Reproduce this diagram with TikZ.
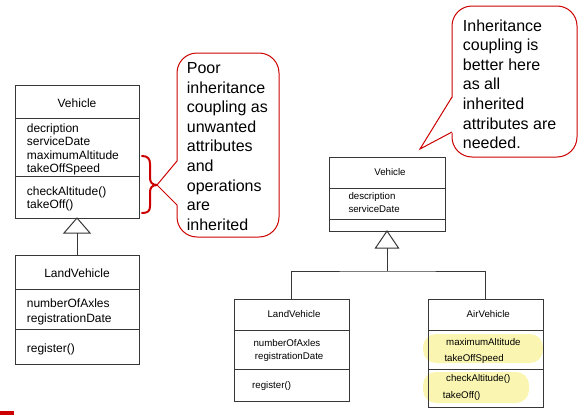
\documentclass[tikz,border=0pt]{standalone}
\usepackage{fontspec}
\setmainfont{Liberation Sans}
\usetikzlibrary{calc}
\definecolor{calred}{RGB}{204,0,0}
\definecolor{hl}{RGB}{250,246,178}
\definecolor{boxline}{RGB}{55,55,55}
\begin{document}
\begin{tikzpicture}[x=1pt,y=-1pt,
 classbox/.style={draw=boxline,line width=1pt,inner sep=0pt,outer sep=0pt,anchor=north west},
 divider/.style={draw=boxline,line width=1pt},
 bigtxt/.style={font=\fontsize{12}{13.5}\selectfont,inner sep=0pt,anchor=base west},
 bigtitle/.style={font=\fontsize{12}{13.5}\selectfont,inner sep=0pt,anchor=base},
 smalltxt/.style={font=\fontsize{9.7}{12}\selectfont,inner sep=0pt,anchor=base west},
 smalltitle/.style={font=\fontsize{9.7}{12}\selectfont,inner sep=0pt,anchor=base},
 callout/.style={draw=calred,line width=1pt,rounded corners=20pt,inner sep=0pt,outer sep=0pt,anchor=north west},
 callouttxt/.style={font=\fontsize{16}{19.6}\selectfont,align=left,inner sep=0pt,anchor=north west},
 redline/.style={draw=calred,line width=1pt},
 inherit/.style={draw=boxline,line width=1pt}
 ]
\useasboundingbox (0,0) rectangle (586,415);

% ---------- left diagram ----------
\node[classbox,minimum width=124pt,minimum height=133pt] (vehL) at (15,85) {};
\draw[divider] (15,118) -- (139,118);
\draw[divider] (15,176) -- (139,176);
\node[bigtitle] (vehLt) at (77,107) {Vehicle};
\node[bigtxt] (vehLa1) at (26.7,132) {decription};
\node[bigtxt] (vehLa2) at (26.7,145.5) {serviceDate};
\node[bigtxt] (vehLa3) at (26.7,159) {maximumAltitude};
\node[bigtxt] (vehLa4) at (26.7,172.5) {takeOffSpeed};
\node[bigtxt] (vehLo1) at (26.7,195.5) {checkAltitude()};
\node[bigtxt] (vehLo2) at (26.7,208) {takeOff()};

\node[classbox,minimum width=124pt,minimum height=109pt] (landL) at (15,255) {};
\draw[divider] (15,289) -- (139,289);
\draw[divider] (15,329) -- (139,329);
\node[bigtitle] (landLt) at (77,277) {LandVehicle};
\node[bigtxt] (landLa1) at (26.7,307.5) {numberOfAxles};
\node[bigtxt] (landLa2) at (26.7,322.5) {registrationDate};
\node[bigtxt] (landLo1) at (26.7,352.7) {register()};

\draw[inherit,fill=white] (vehL.south) -- ++(-13,15) -- ++(26,0) -- cycle;
\coordinate (triL) at ($(vehL.south)+(0,15)$);
\draw[inherit] (triL) -- (landL.north);

% brace
\coordinate (braceTip) at (157,185);
\draw[calred,line width=2pt,line cap=round]
  (142,156) .. controls (148,156) and (150,159) .. (150,164) -- (150,178)
  .. controls (150,182) and (152,185) .. (braceTip)
  .. controls (152,185) and (150,188) .. (150,192) -- (150,206)
  .. controls (150,211) and (148,213) .. (142,213);

% left callout
\node[callout,minimum width=102pt,minimum height=184pt] (poor) at (177,53) {};
\fill[white] (braceTip) -- (178.2,160.5) -- (178.2,205.5) -- cycle;
\draw[redline] (poor.west |- 0,161) -- (braceTip) -- (poor.west |- 0,205);
\node[callouttxt] (poortxt) at (186.7,62.3) {Poor\\inheritance\\coupling as\\unwanted\\attributes\\and\\operations\\are\\inherited};

% ---------- right diagram ----------
\fill[hl,rounded corners=13pt] (423,334) rectangle (543,363);
\fill[hl,rounded corners=13pt] (423,372) rectangle (529,403);

\node[classbox,minimum width=116pt,minimum height=74pt] (vehR) at (329,157) {};
\draw[divider] (329,188.3) -- (445,188.3);
\draw[divider] (329,219.3) -- (445,219.3);
\node[smalltitle] (vehRt) at (390,175.2) {Vehicle};
\node[smalltxt] (vehRa1) at (348.3,199.2) {description};
\node[smalltxt] (vehRa2) at (348.3,212.5) {serviceDate};

\node[classbox,minimum width=115pt,minimum height=102pt] (landR) at (234,299) {};
\draw[divider] (234,330.3) -- (349,330.3);
\draw[divider] (234,369.3) -- (349,369.3);
\node[smalltitle] (landRt) at (294,317.2) {LandVehicle};
\node[smalltxt] (landRa1) at (253.3,346.8) {numberOfAxles};
\node[smalltxt] (landRa2) at (254.7,359.2) {registrationDate};
\node[smalltxt] (landRo1) at (252,388.5) {register()};

\node[classbox,minimum width=115pt,minimum height=108pt] (airR) at (428,299) {};
\draw[divider] (428,330.3) -- (543,330.3);
\draw[divider] (428,369.3) -- (543,369.3);
\node[smalltitle] (airRt) at (488.3,317.2) {AirVehicle};
\node[smalltxt] (airRa1) at (446,345.2) {maximumAltitude};
\node[smalltxt] (airRa2) at (444.3,361.2) {takeOffSpeed};
\node[smalltxt] (airRo1) at (446,381.8) {checkAltitude()};
\node[smalltxt] (airRo2) at (442.7,398.5) {takeOff()};

\draw[inherit,fill=white] (vehR.south) -- ++(-11.5,17) -- ++(23,0) -- cycle;
\coordinate (triR) at ($(vehR.south)+(0,17)$);
\coordinate (junc) at ($(triR)+(0,23)$);
\draw[inherit] (triR) -- (junc);
\draw[inherit] (landR.north) |- (junc) -| (airR.north);

% right callout
\node[callout,minimum width=125pt,minimum height=151pt] (good) at (452,6) {};
\coordinate (goodTip) at (420,149);
\fill[white] (goodTip) -- (453.2,96.5) -- (453.2,132.5) -- cycle;
\draw[redline] (good.west |- 0,97) -- (goodTip) -- (good.west |- 0,132);
\node[callouttxt] (goodtxt) at (462.7,19.3) {Inheritance\\coupling is\\better here\\as all\\inherited\\attributes are\\needed.};

% small red mark
\fill[calred] (0,411) rectangle (14,415);
\end{tikzpicture}
\end{document}
